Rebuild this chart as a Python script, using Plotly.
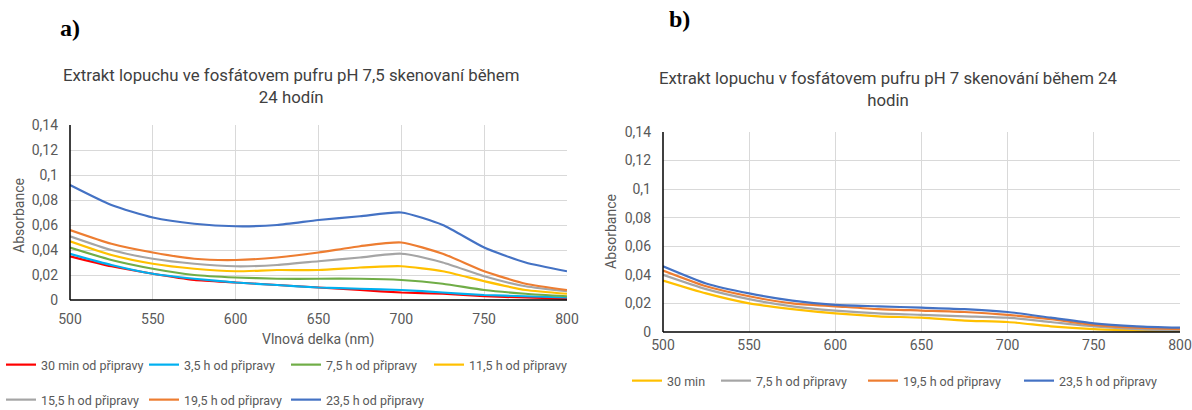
import plotly.graph_objects as go

wavelength = [500, 525, 550, 575, 600, 625, 650, 675, 700, 725, 750, 775, 800]

# Panel a) pH 7,5
a_names = ["30 min od připravy", "3,5 h od připravy", "7,5 h od připravy", "11,5 h od připravy",
           "15,5 h od připravy", "19,5 h od připravy", "23,5 h od připravy"]
a_30min = [0.035, 0.027, 0.021, 0.016, 0.014, 0.012, 0.010, 0.008, 0.006, 0.005, 0.003, 0.002, 0.001]
a_3_5h = [0.037, 0.028, 0.021, 0.017, 0.014, 0.012, 0.010, 0.009, 0.008, 0.006, 0.004, 0.003, 0.002]
a_7_5h = [0.042, 0.032, 0.025, 0.020, 0.018, 0.017, 0.017, 0.017, 0.016, 0.013, 0.008, 0.005, 0.003]
a_11_5h = [0.047, 0.036, 0.029, 0.025, 0.023, 0.024, 0.024, 0.026, 0.027, 0.023, 0.015, 0.008, 0.005]
a_15_5h = [0.051, 0.040, 0.033, 0.029, 0.027, 0.028, 0.031, 0.034, 0.037, 0.030, 0.019, 0.011, 0.007]
a_19_5h = [0.056, 0.045, 0.038, 0.033, 0.032, 0.034, 0.038, 0.043, 0.046, 0.037, 0.023, 0.013, 0.008]
a_23_5h = [0.092, 0.076, 0.066, 0.061, 0.059, 0.060, 0.064, 0.067, 0.070, 0.060, 0.042, 0.030, 0.023]
a_colors = ["#FF0000", "#00B0F0", "#70AD47", "#FFC000", "#A5A5A5", "#ED7D31", "#4472C4"]

# Panel b) pH 7
b_names = ["30 min", "7,5 h od připravy", "19,5 h od připravy", "23,5 h od připravy"]
b_30min = [0.036, 0.027, 0.020, 0.016, 0.013, 0.011, 0.010, 0.008, 0.007, 0.004, 0.002, 0.001, 0.000]
b_7_5h = [0.040, 0.030, 0.023, 0.018, 0.015, 0.013, 0.012, 0.011, 0.010, 0.007, 0.004, 0.002, 0.001]
b_19_5h = [0.043, 0.032, 0.025, 0.020, 0.018, 0.016, 0.015, 0.014, 0.012, 0.009, 0.005, 0.003, 0.002]
b_23_5h = [0.046, 0.034, 0.027, 0.022, 0.019, 0.018, 0.017, 0.016, 0.014, 0.010, 0.006, 0.004, 0.003]
b_colors = ["#FFC000", "#A5A5A5", "#ED7D31", "#4472C4"]

x_ticks = [500, 550, 600, 650, 700, 750, 800]
x_ticktext = ["500", "550", "600", "650", "700", "750", "800"]
y_ticks = [0, 0.02, 0.04, 0.06, 0.08, 0.10, 0.12, 0.14]
y_ticktext = ["0", "0,02", "0,04", "0,06", "0,08", "0,1", "0,12", "0,14"]

FONT = "Roboto"
TXT = "#595959"

W, H = 1192, 410

def px_x(p):
    return p / W

def px_y(p):
    return 1 - p / H

# legend placement (pixels): one legend box per entry
a_legend_pos = [(1, 365), (144, 365), (286, 365), (429, 365), (1, 400), (144, 400), (286, 400)]
b_legend_pos = [(627, 381), (716, 381), (863, 381), (1019, 381)]

fig = go.Figure()
legend_layout = {}

def row_legend(xp, yp):
    return dict(orientation="h", x=px_x(xp), xanchor="left", y=px_y(yp), yanchor="middle",
                itemwidth=30, font=dict(family=FONT, size=12.5, color=TXT),
                bgcolor="rgba(0,0,0,0)")

k = 0
a_series = [a_30min, a_3_5h, a_7_5h, a_11_5h, a_15_5h, a_19_5h, a_23_5h]
for nm, ys, c, pos in zip(a_names, a_series, a_colors, a_legend_pos):
    k += 1
    lid = "legend" if k == 1 else f"legend{k}"
    legend_layout[lid] = row_legend(*pos)
    fig.add_trace(go.Scatter(
        x=wavelength, y=ys, name=nm, mode="lines",
        line=dict(color=c, width=2.2, shape="spline", smoothing=0.6),
        xaxis="x", yaxis="y", legend=lid,
    ))

b_series = [b_30min, b_7_5h, b_19_5h, b_23_5h]
for nm, ys, c, pos in zip(b_names, b_series, b_colors, b_legend_pos):
    k += 1
    lid = f"legend{k}"
    legend_layout[lid] = row_legend(*pos)
    fig.add_trace(go.Scatter(
        x=wavelength, y=ys, name=nm, mode="lines",
        line=dict(color=c, width=2.2, shape="spline", smoothing=0.6),
        xaxis="x2", yaxis="y2", legend=lid,
    ))

axis_common = dict(
    showgrid=True, gridcolor="#D9D9D9", gridwidth=1,
    zeroline=False, ticks="", showline=False, automargin=False,
    tickfont=dict(family=FONT, size=14, color=TXT),
)

fig.update_layout(
    width=W, height=H,
    margin=dict(l=0, r=0, t=0, b=0, autoexpand=False),
    paper_bgcolor="white", plot_bgcolor="white",
    font=dict(family=FONT, color=TXT),
    xaxis=dict(domain=[px_x(70), px_x(567)], range=[500, 800], tickvals=x_ticks, ticktext=x_ticktext,
               anchor="y", ticklabelstandoff=9, **axis_common),
    yaxis=dict(domain=[px_y(300), px_y(125)], range=[0, 0.14], tickvals=y_ticks, ticktext=y_ticktext,
               anchor="x", ticklabelstandoff=11, **axis_common),
    xaxis2=dict(domain=[px_x(663), px_x(1180)], range=[500, 800], tickvals=x_ticks, ticktext=x_ticktext,
                anchor="y2", ticklabelstandoff=3, **axis_common),
    yaxis2=dict(domain=[px_y(332), px_y(132)], range=[0, 0.14], tickvals=y_ticks, ticktext=y_ticktext,
                anchor="x2", ticklabelstandoff=11, **axis_common),
    showlegend=True,
    **legend_layout,
)

# axis lines (left and bottom black)
for xr, yr in (("x", "y"), ("x2", "y2")):
    fig.add_shape(type="line", xref=xr + " domain", yref=yr + " domain", x0=0, x1=0, y0=0, y1=1,
                  line=dict(color="black", width=1.5), layer="above")
    fig.add_shape(type="line", xref=xr + " domain", yref=yr + " domain", x0=0, x1=1, y0=0, y1=0,
                  line=dict(color="black", width=1.5), layer="above")

annotations = [
    dict(text="<b>a)</b>", x=px_x(58), y=px_y(28), xanchor="left", yanchor="middle",
         font=dict(family="Liberation Serif", size=24, color="black")),
    dict(text="<b>b)</b>", x=px_x(667), y=px_y(19), xanchor="left", yanchor="middle",
         font=dict(family="Liberation Serif", size=24, color="black")),
    dict(text="Extrakt lopuchu ve fosfátovem pufru pH 7,5 skenovaní během<br>24 hodín",
         x=px_x(291), y=px_y(86), xanchor="center", yanchor="middle",
         font=dict(family=FONT, size=16.8, color="#404040")),
    dict(text="Extrakt lopuchu v fosfátovem pufru pH 7 skenování během 24<br>hodin",
         x=px_x(888), y=px_y(89), xanchor="center", yanchor="middle",
         font=dict(family=FONT, size=16.8, color="#404040")),
    dict(text="Vlnová delka (nm)", x=px_x(318), y=px_y(339), xanchor="center", yanchor="middle",
         font=dict(family=FONT, size=14, color=TXT)),
    dict(text="Absorbance", x=px_x(19), y=px_y(216), xanchor="center", yanchor="middle", textangle=-90,
         font=dict(family=FONT, size=14, color=TXT)),
    dict(text="Absorbance", x=px_x(611), y=px_y(232), xanchor="center", yanchor="middle", textangle=-90,
         font=dict(family=FONT, size=14, color=TXT)),
]
for a in annotations:
    a.update(xref="paper", yref="paper", showarrow=False)
fig.update_layout(annotations=annotations)

fig.write_html("out.html")
